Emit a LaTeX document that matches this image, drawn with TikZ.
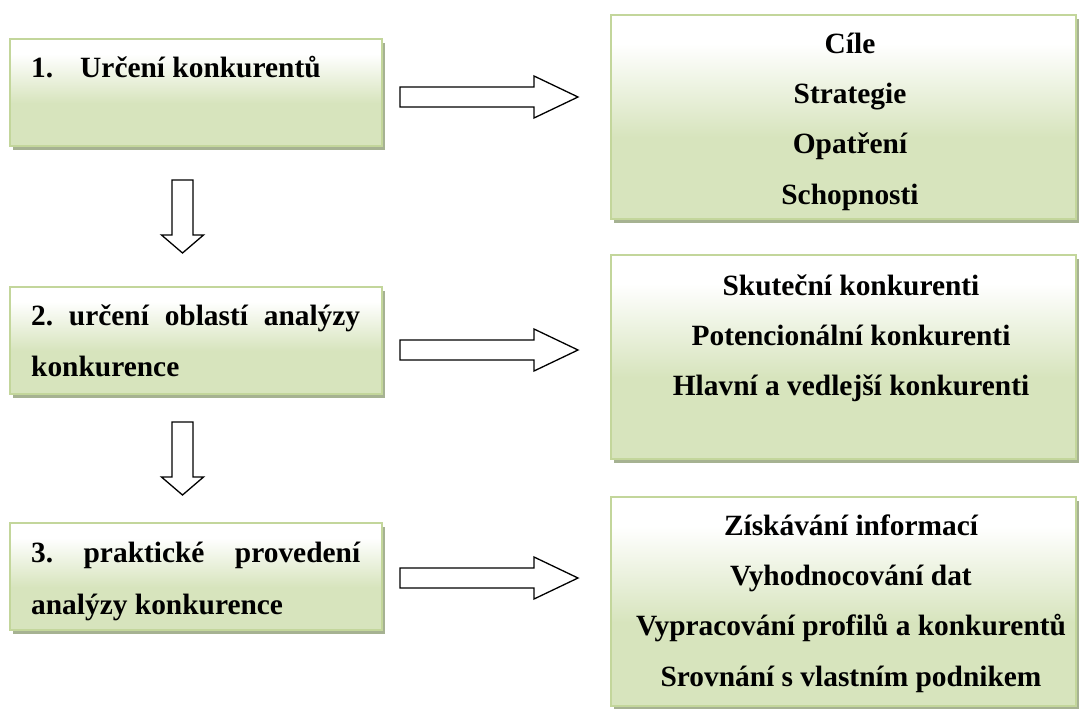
\documentclass[tikz,border=0pt]{standalone}
\usepackage{fontspec}
\setmainfont{Liberation Serif}
\usetikzlibrary{shadows}
\definecolor{boxfill}{HTML}{D7E4BD}
\definecolor{boxborder}{HTML}{C3D69B}
\definecolor{shadowcol}{HTML}{A6B292}
\pgfdeclareverticalshading{boxgrad}{100bp}{color(0bp)=(boxfill); color(45bp)=(boxfill); color(68bp)=(white); color(100bp)=(white)}
\tikzset{
  box/.style={draw=boxborder, line width=2pt, shading=boxgrad, shading angle=0,
    drop shadow={fill=shadowcol, draw=none, opacity=1, shadow xshift=3pt, shadow yshift=-4pt},
    rectangle, inner sep=0pt},
  lbox/.style={box, minimum width=372pt, minimum height=107pt},
  rbox/.style={box, minimum width=465pt},
  txt/.style={inner sep=0pt, font=\fontsize{29.4}{50.3}\selectfont\bfseries\frenchspacing},
  arrowline/.style={draw=black, line width=1.3pt, fill=white, line join=miter},
  rarrow/.pic={\path[arrowline] (0,-10) -- (134,-10) -- (134,-21) -- (178,0) -- (134,21) -- (134,10) -- (0,10) -- cycle;},
  darrow/.pic={\path[arrowline] (-10.5,0) -- (-10.5,55) -- (-21,55) -- (0,73) -- (21,55) -- (10.5,55) -- (10.5,0) -- cycle;}
}
\begin{document}
\begin{tikzpicture}[x=1pt,y=-1pt]
\useasboundingbox (0,0) rectangle (1081,709);
% left boxes
\node[lbox] (b1) at (196,92.5) {};
\node[lbox] (b2) at (196,340) {};
\node[lbox] (b3) at (196,576.5) {};
% right boxes
\node[rbox, minimum height=204pt] (r1) at (843.5,117) {};
\node[rbox, minimum height=204pt] (r2) at (843.5,357) {};
\node[rbox, minimum height=209pt] (r3) at (843.5,601.5) {};
% texts
\node[txt, anchor=north west, align=left] (t1) at (31,47) {\rule{0pt}{30pt}1.\hspace{27pt}Určení konkurentů};
\node[txt, anchor=north west, align=left, font=\fontsize{29.4}{51}\selectfont\bfseries\frenchspacing] (t2) at (31,295) {\rule{0pt}{30pt}\makebox[329pt][s]{2. určení oblastí analýzy}\\konkurence};
\node[txt, anchor=north west, align=left, font=\fontsize{29.4}{52}\selectfont\bfseries\frenchspacing] (t3) at (31,532) {\rule{0pt}{30pt}\makebox[329pt][s]{3. praktické provedení}\\analýzy konkurence};
\node[txt, anchor=north, align=center] (u1) at (850,23) {\rule{0pt}{30pt}Cíle\\Strategie\\Opatření\\Schopnosti};
\node[txt, anchor=north, align=center] (u2) at (851,265) {\rule{0pt}{30pt}Skuteční konkurenti\\Potencionální konkurenti\\Hlavní a vedlejší konkurenti};
\node[txt, anchor=north, align=center] (u3) at (851,505) {\rule{0pt}{30pt}Získávání informací\\Vyhodnocování dat\\Vypracování profilů a konkurentů\\Srovnání s vlastním podnikem};
% arrows
\coordinate (a1) at (400,97);
\coordinate (a2) at (400,350);
\coordinate (a3) at (400,578);
\coordinate (d1) at (182.5,180);
\coordinate (d2) at (182.5,422);
\pic at (a1) {rarrow};
\pic at (a2) {rarrow};
\pic at (a3) {rarrow};
\pic at (d1) {darrow};
\pic at (d2) {darrow};
\end{tikzpicture}
\end{document}
